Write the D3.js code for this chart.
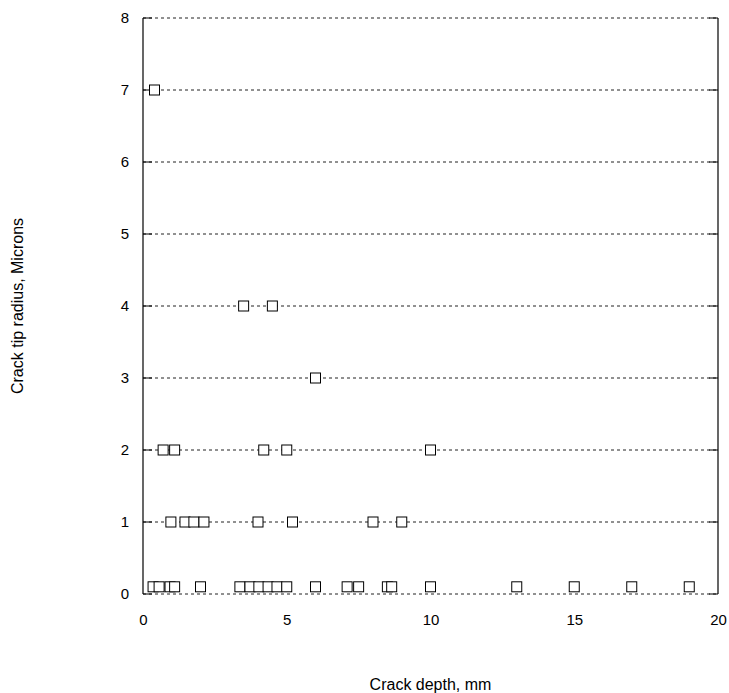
<!DOCTYPE html>
<html lang="en">
<head>
  <meta charset="UTF-8">
  <title>crack tip radius</title>
  <script src="https://d3js.org/d3.v7.min.js"></script>
  <style>
    body { margin: 0; background: #fff; }
    text { font-family: "Liberation Sans", Arial, sans-serif; }
  </style>
</head>
<body>
  <svg id="chart" width="729" height="693"></svg>
  <script>
    // crack depth (mm) and tip radius (microns)
    const depth = [0.35, 0.56, 0.94, 1.1, 2.0, 3.37, 3.72, 4.03, 4.35, 4.66, 5.0, 6.0, 7.1, 7.5, 8.5, 8.65, 10, 13, 15, 17, 19,
      0.97, 1.46, 1.77, 2.12, 4.0, 5.2, 8.0, 9.0,
      0.7, 1.1, 4.2, 5.0, 10,
      6.0,
      3.5, 4.5,
      0.4];
    const radius = [0.1, 0.1, 0.1, 0.1, 0.1, 0.1, 0.1, 0.1, 0.1, 0.1, 0.1, 0.1, 0.1, 0.1, 0.1, 0.1, 0.1, 0.1, 0.1, 0.1, 0.1,
      1, 1, 1, 1, 1, 1, 1, 1,
      2, 2, 2, 2, 2,
      3,
      4, 4,
      7];
    const xTicks = [0, 5, 10, 15, 20];
    const yTicks = [0, 1, 2, 3, 4, 5, 6, 7, 8];

    const svg = d3.select('svg#chart');
    const margins = { top: 18, right: 11, bottom: 99, left: 143 };
    const chartWidth = 729 - margins.left - margins.right;
    const chartHeight = 693 - margins.top - margins.bottom;
    const chartArea = svg.append('g')
      .attr('transform', `translate(${margins.left},${margins.top})`);

    const xScale = d3.scaleLinear().domain([0, 20]).range([0, chartWidth]);
    const yScale = d3.scaleLinear().domain([0, 8]).range([chartHeight, 0]);

    // dashed horizontal grid
    yTicks.forEach(t => {
      chartArea.append('line')
        .attr('x1', 0).attr('x2', chartWidth)
        .attr('y1', yScale(t)).attr('y2', yScale(t))
        .attr('stroke', '#222')
        .attr('stroke-width', 1)
        .attr('stroke-dasharray', '3,3');
    });

    // left and right border, solid
    [0, chartWidth].forEach(x => {
      chartArea.append('line')
        .attr('x1', x).attr('x2', x)
        .attr('y1', 0).attr('y2', chartHeight)
        .attr('stroke', '#000').attr('stroke-width', 1.2);
    });

    // inward ticks on both sides
    yTicks.forEach(t => {
      chartArea.append('line')
        .attr('x1', 0).attr('x2', 9)
        .attr('y1', yScale(t)).attr('y2', yScale(t))
        .attr('stroke', '#000');
      chartArea.append('line')
        .attr('x1', chartWidth - 9).attr('x2', chartWidth)
        .attr('y1', yScale(t)).attr('y2', yScale(t))
        .attr('stroke', '#000');
    });

    // tick labels
    const yAxis = d3.axisLeft(yScale).tickValues(yTicks).tickSize(0).tickPadding(14);
    const gy = chartArea.append('g').call(yAxis);
    gy.select('.domain').remove();
    gy.selectAll('text').style('font-size', '15px').style('font-family', '"Liberation Sans", Arial, sans-serif');

    const xAxis = d3.axisBottom(xScale).tickValues(xTicks).tickSize(0).tickPadding(20);
    const gx = chartArea.append('g')
      .attr('transform', `translate(0,${chartHeight})`)
      .call(xAxis);
    gx.select('.domain').remove();
    gx.selectAll('text').style('font-size', '15px').style('font-family', '"Liberation Sans", Arial, sans-serif');

    // points: open squares
    depth.forEach((d, i) => {
      chartArea.append('rect')
        .attr('x', xScale(d) - 5)
        .attr('y', yScale(radius[i]) - 5)
        .attr('width', 10)
        .attr('height', 10)
        .attr('fill', '#fff')
        .attr('stroke', '#000')
        .attr('stroke-width', 1);
    });

    // axis titles
    svg.append('text')
      .attr('x', margins.left + chartWidth / 2)
      .attr('y', 690)
      .attr('text-anchor', 'middle')
      .style('font-size', '16px')
      .text('Crack depth, mm');

    svg.append('text')
      .attr('transform', `translate(23,${margins.top + chartHeight / 2}) rotate(-90)`)
      .attr('text-anchor', 'middle')
      .style('font-size', '16px')
      .text('Crack tip radius, Microns');
  </script>
</body>
</html>
